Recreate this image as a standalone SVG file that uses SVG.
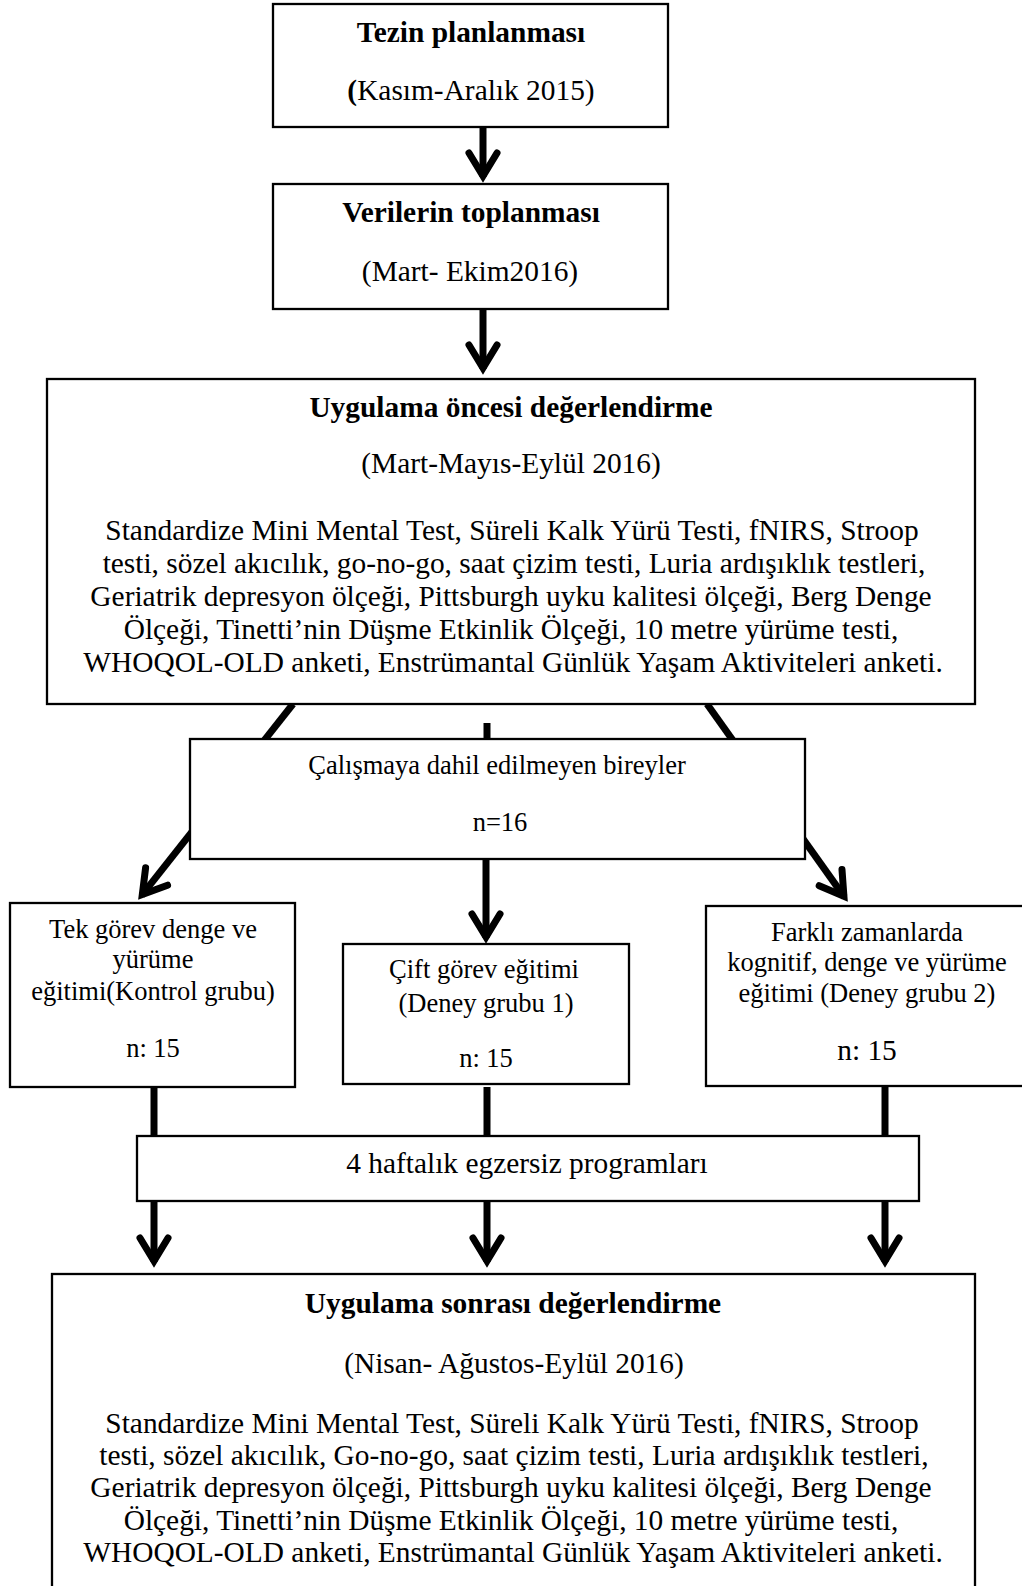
<svg xmlns="http://www.w3.org/2000/svg" width="1022" height="1586" viewBox="0 0 1022 1586">
<style>
  text { font-family: "Liberation Serif", "Times New Roman", serif; fill: #000; text-anchor: middle; }
  .t29 { font-size: 29.4px; }
  .t26 { font-size: 26.5px; }
  .b { font-weight: bold; }
  .box { fill: #fff; stroke: #000; stroke-width: 2.3; }
  .conn { stroke: #000; stroke-width: 7; fill: none; }
</style>
<defs>
  <marker id="chev" markerUnits="userSpaceOnUse" orient="auto" refX="0" refY="0" markerWidth="60" markerHeight="60" overflow="visible">
    <path d="M-24,-14 L-1,0 L-24,14" fill="none" stroke="#000" stroke-width="7" stroke-linecap="round" stroke-linejoin="miter"/>
  </marker>
</defs>
<rect width="1022" height="1586" fill="#fff"/>

<g id="connectors">
  <line class="conn" x1="483" y1="127" x2="483" y2="177" marker-end="url(#chev)"/>
  <line class="conn" x1="483" y1="310" x2="483" y2="369" marker-end="url(#chev)"/>
  <line class="conn" x1="293" y1="704" x2="141.7" y2="895.3" marker-end="url(#chev)"/>
  <line class="conn" x1="707" y1="704" x2="844.5" y2="897.1" marker-end="url(#chev)"/>
  <line class="conn" x1="487" y1="723" x2="487" y2="739"/>
  <line class="conn" x1="486" y1="859" x2="486" y2="938" marker-end="url(#chev)"/>
  <line class="conn" x1="154" y1="1087" x2="154" y2="1136"/>
  <line class="conn" x1="487" y1="1087" x2="487" y2="1136"/>
  <line class="conn" x1="885" y1="1086" x2="885" y2="1136"/>
  <line class="conn" x1="154" y1="1201" x2="154" y2="1262" marker-end="url(#chev)"/>
  <line class="conn" x1="487" y1="1201" x2="487" y2="1262" marker-end="url(#chev)"/>
  <line class="conn" x1="885" y1="1201" x2="885" y2="1262" marker-end="url(#chev)"/>
</g>

<g id="tezin-planlanmasi">
  <rect class="box" x="273" y="4" width="395" height="123"/>
  <text class="t29 b" x="471" y="42">Tezin planlanması</text>
  <text class="t29" x="471" y="100"><tspan class="b">(</tspan>Kasım-Aralık 2015)</text>
</g>

<g id="verilerin-toplanmasi">
  <rect class="box" x="273" y="184" width="395" height="125"/>
  <text class="t29 b" x="471" y="222">Verilerin toplanması</text>
  <text class="t29" x="470" y="281">(Mart- Ekim2016)</text>
</g>

<g id="uygulama-oncesi">
  <rect class="box" x="47" y="379" width="928" height="325"/>
  <text class="t29 b" x="511" y="417">Uygulama öncesi değerlendirme</text>
  <text class="t29" x="511" y="473">(Mart-Mayıs-Eylül 2016)</text>
  <text class="t29" x="512" y="540">Standardize Mini Mental Test, Süreli Kalk Yürü Testi, fNIRS, Stroop</text>
  <text class="t29" x="514" y="573">testi, sözel akıcılık, go-no-go, saat çizim testi, Luria ardışıklık testleri,</text>
  <text class="t29" x="511" y="606">Geriatrik depresyon ölçeği, Pittsburgh uyku kalitesi ölçeği, Berg Denge</text>
  <text class="t29" x="511" y="639">Ölçeği, Tinetti’nin Düşme Etkinlik Ölçeği, 10 metre yürüme testi,</text>
  <text class="t29" x="513" y="672">WHOQOL-OLD anketi, Enstrümantal Günlük Yaşam Aktiviteleri anketi.</text>
</g>

<g id="calismaya-dahil-edilmeyen">
  <rect class="box" x="190" y="739" width="615" height="120"/>
  <text class="t26" x="497" y="774">Çalışmaya dahil edilmeyen bireyler</text>
  <text class="t26" x="500" y="831">n=16</text>
</g>

<g id="tek-gorev">
  <rect class="box" x="10" y="903" width="285" height="184"/>
  <text class="t26" x="153" y="938">Tek görev denge ve</text>
  <text class="t26" x="153" y="968">yürüme</text>
  <text class="t26" x="153" y="1000">eğitimi(Kontrol grubu)</text>
  <text class="t26" x="153" y="1057">n: 15</text>
</g>

<g id="cift-gorev">
  <rect class="box" x="343" y="944" width="286" height="140"/>
  <text class="t26" x="484" y="978">Çift görev eğitimi</text>
  <text class="t26" x="486" y="1012">(Deney grubu 1)</text>
  <text class="t26" x="486" y="1067">n: 15</text>
</g>

<g id="farkli-zamanlarda">
  <rect class="box" x="706" y="906" width="330" height="180"/>
  <text class="t26" x="867" y="941">Farklı zamanlarda</text>
  <text class="t26" x="867" y="971">kognitif, denge ve yürüme</text>
  <text class="t26" x="867" y="1002">eğitimi (Deney grubu 2)</text>
  <text class="t29" x="867" y="1060">n: 15</text>
</g>

<g id="egzersiz-programlari">
  <rect class="box" x="137" y="1136" width="782" height="65"/>
  <text class="t29" x="527" y="1173">4 haftalık egzersiz programları</text>
</g>

<g id="uygulama-sonrasi">
  <rect class="box" x="52" y="1274" width="923" height="340"/>
  <text class="t29 b" x="513" y="1313">Uygulama sonrası değerlendirme</text>
  <text class="t29" x="514" y="1373">(Nisan- Ağustos-Eylül 2016)</text>
  <text class="t29" x="512" y="1433">Standardize Mini Mental Test, Süreli Kalk Yürü Testi, fNIRS, Stroop</text>
  <text class="t29" x="514" y="1465">testi, sözel akıcılık, Go-no-go, saat çizim testi, Luria ardışıklık testleri,</text>
  <text class="t29" x="511" y="1497">Geriatrik depresyon ölçeği, Pittsburgh uyku kalitesi ölçeği, Berg Denge</text>
  <text class="t29" x="511" y="1530">Ölçeği, Tinetti’nin Düşme Etkinlik Ölçeği, 10 metre yürüme testi,</text>
  <text class="t29" x="513" y="1562">WHOQOL-OLD anketi, Enstrümantal Günlük Yaşam Aktiviteleri anketi.</text>
</g>
</svg>
